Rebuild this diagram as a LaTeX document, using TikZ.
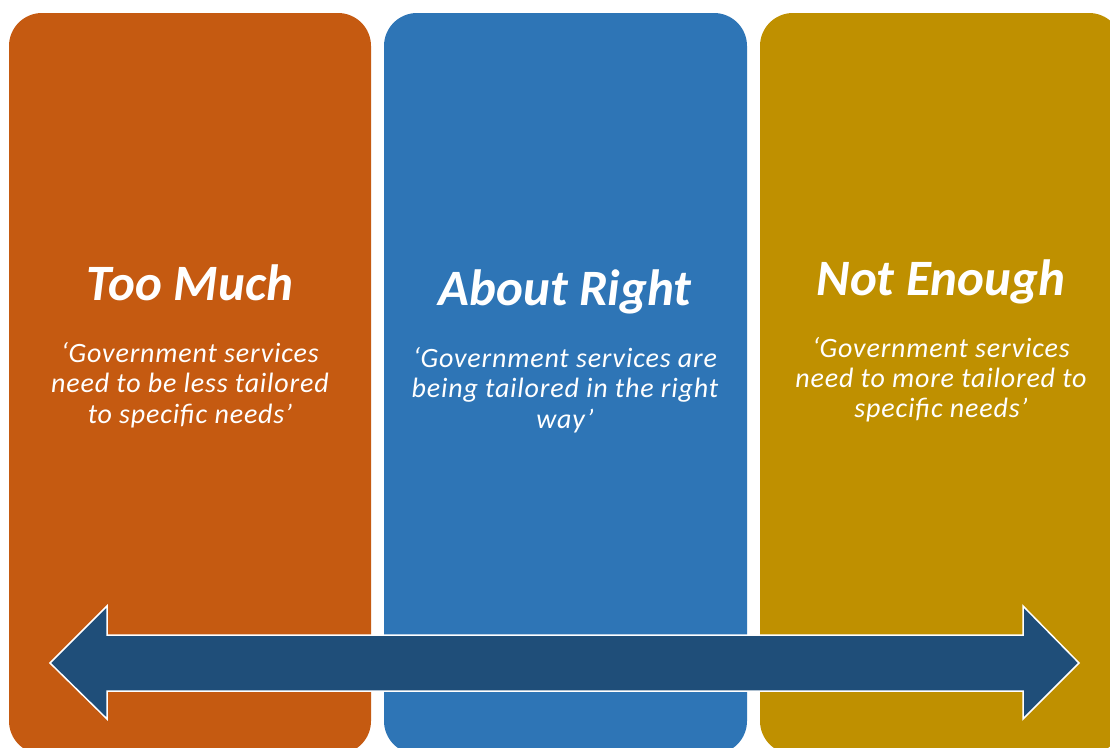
\documentclass[tikz,border=0pt]{standalone}
\usepackage{fontspec}
\setmainfont{Carlito}
\newfontfamily\quotefont[LetterSpace=3]{Carlito}
\definecolor{muchorange}{HTML}{C55A11}
\definecolor{rightblue}{HTML}{2E75B6}
\definecolor{enoughgold}{HTML}{BF9000}
\definecolor{arrowblue}{HTML}{1F4E79}
\begin{document}
\begin{tikzpicture}[x=1pt,y=-1pt,
  panel/.style={rounded corners=33pt},
  heading/.style={text=white,font=\fontsize{51}{60}\selectfont\bfseries\itshape,anchor=base,inner sep=0pt},
  quote/.style={text=white,font=\quotefont\fontsize{28}{31}\selectfont\itshape,anchor=base,inner sep=0pt}]
\useasboundingbox (0,0) rectangle (1110,747);
\clip (0,0) rectangle (1110,747);
\fill[white] (0,0) rectangle (1110,747);

% three columns
\fill[muchorange,panel] (9,13) rectangle (371,754);
\fill[rightblue,panel] (384,13) rectangle (747,754);
\fill[enoughgold,panel] (760,13) rectangle (1122,754);

% column texts
\node[heading] (muchtitle) at (190,300) {Too Much};
\node[quote] (mucha) at (190,362) {‘Government services};
\node[quote] (muchb) at (190,392) {need to be less tailored};
\node[quote] (muchc) at (190,423) {to specific needs’};

\node[heading] (righttitle) at (565,305) {About Right};
\node[quote] (righta) at (565,367) {‘Government services are};
\node[quote] (rightb) at (565,397) {being tailored in the right};
\node[quote] (rightc) at (565,428) {way’};

\node[heading] (enoughtitle) at (941,295) {Not Enough};
\node[quote] (enougha) at (941,357) {‘Government services};
\node[quote] (enoughb) at (941,387) {need to more tailored to};
\node[quote] (enoughc) at (941,417) {specific needs’};

% double-headed scale arrow
\filldraw[fill=arrowblue,draw=white,line width=1.5pt,line join=miter]
  (50,663) -- (107,606) -- (107,635) -- (1023,635) -- (1023,606) -- (1079,663)
  -- (1023,719) -- (1023,691) -- (107,691) -- (107,719) -- cycle;
\end{tikzpicture}
\end{document}
